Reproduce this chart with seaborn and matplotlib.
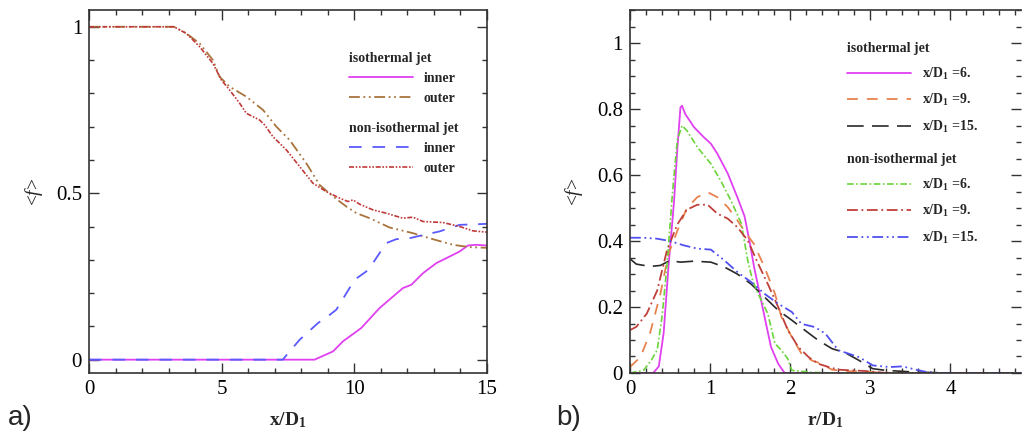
import matplotlib
matplotlib.use("Agg")
import seaborn as sns
from matplotlib import pyplot as plt
from matplotlib.ticker import MultipleLocator

# ---- panel a) : centreline <f> vs x/D1
x_iso_inner = [0, 8.5, 9.2, 9.57, 10.26, 10.95, 11.83, 12.15, 12.59, 13.09, 13.47, 13.97, 14.28, 14.6, 15]
f_iso_inner = [0, 0, 0.025, 0.055, 0.095, 0.155, 0.215, 0.225, 0.26, 0.29, 0.305, 0.325, 0.343, 0.345, 0.343]

x_iso_outer = [0, 3.2, 3.67, 4.17, 4.67, 4.92, 5.3, 5.93, 6.56, 7.06, 7.56, 8.19, 8.69, 9.2, 9.7,
               10.08, 10.58, 11.33, 12.21, 12.96, 13.72, 14.35, 15]
f_iso_outer = [1, 1, 0.98, 0.95, 0.90, 0.85, 0.82, 0.79, 0.75, 0.70, 0.66, 0.59, 0.525, 0.49, 0.46,
               0.44, 0.425, 0.397, 0.38, 0.362, 0.345, 0.338, 0.336]

x_non_inner = [0, 7.3, 7.94, 8.63, 9.0, 9.32, 10.01, 10.45, 10.7, 11.2, 11.58, 12.09, 12.46, 13.2, 13.97, 15]
f_non_inner = [0, 0, 0.06, 0.11, 0.13, 0.15, 0.24, 0.265, 0.29, 0.35, 0.362, 0.365, 0.372, 0.385, 0.405, 0.408]

x_non_outer = [0, 3.2, 3.67, 4.17, 4.67, 4.99, 5.3, 5.68, 5.93, 6.43, 6.62, 6.93, 7.44, 7.94, 8.44, 8.94,
               9.45, 9.76, 9.95, 10.2, 10.7, 11.2, 11.83, 12.21, 12.59, 13.34, 13.97, 14.47, 15]
f_non_outer = [1, 1, 0.98, 0.94, 0.89, 0.84, 0.81, 0.77, 0.74, 0.72, 0.705, 0.67, 0.63, 0.58, 0.53, 0.505,
               0.485, 0.475, 0.48, 0.467, 0.45, 0.44, 0.425, 0.428, 0.415, 0.412, 0.40, 0.387, 0.383]

# ---- panel b) : radial profiles <f> vs r/D1
r_iso6 = [0, 0.29, 0.36, 0.42, 0.48, 0.55, 0.59, 0.63, 0.65, 0.69, 0.8, 0.92, 1.01, 1.09, 1.22, 1.34,
          1.43, 1.49, 1.55, 1.62, 1.68, 1.76, 1.85, 1.93, 4.95]
f_iso6 = [0, 0, 0.02, 0.12, 0.32, 0.52, 0.675, 0.805, 0.81, 0.785, 0.745, 0.715, 0.695, 0.665, 0.605, 0.533,
          0.475, 0.402, 0.32, 0.24, 0.17, 0.079, 0.028, 0, 0]

r_iso9 = [0, 0.13, 0.25, 0.38, 0.48, 0.59, 0.71, 0.84, 0.97, 1.09, 1.22, 1.34, 1.43, 1.55, 1.68, 1.81,
          1.89, 2.02, 2.14, 2.27, 2.39, 2.52, 2.69, 3.1, 3.3, 4.95]
f_iso9 = [0.018, 0.048, 0.12, 0.24, 0.36, 0.43, 0.5, 0.533, 0.548, 0.533, 0.503, 0.463, 0.43, 0.39, 0.32, 0.24,
          0.17, 0.109, 0.059, 0.038, 0.028, 0.01, 0.006, 0.002, 0, 0]

r_iso15 = [0, 0.08, 0.25, 0.38, 0.5, 0.63, 0.8, 1.01, 1.18, 1.34, 1.51, 1.68, 1.85, 2.02, 2.18, 2.35,
           2.52, 2.69, 2.86, 3.03, 3.19, 3.53, 3.95, 4.95]
f_iso15 = [0.346, 0.33, 0.323, 0.326, 0.341, 0.336, 0.339, 0.336, 0.321, 0.3, 0.27, 0.23, 0.19, 0.16, 0.13, 0.099,
           0.074, 0.061, 0.038, 0.013, 0.008, 0.003, 0, 0]

r_non6 = [0, 0.17, 0.27, 0.34, 0.4, 0.46, 0.53, 0.59, 0.65, 0.71, 0.84, 1.01, 1.13, 1.26, 1.39, 1.47,
          1.53, 1.6, 1.72, 1.81, 1.89, 1.97, 2.02, 2.27, 2.5, 4.95]
f_non6 = [0, 0.008, 0.04, 0.07, 0.17, 0.32, 0.545, 0.705, 0.75, 0.735, 0.685, 0.634, 0.584, 0.523, 0.453, 0.341,
          0.281, 0.24, 0.18, 0.089, 0.069, 0.043, 0.008, 0.002, 0, 0]

r_non9 = [0, 0.08, 0.21, 0.34, 0.46, 0.59, 0.71, 0.84, 0.97, 1.09, 1.22, 1.34, 1.47, 1.6, 1.72, 1.85,
          1.97, 2.1, 2.23, 2.35, 2.48, 2.6, 2.94, 3.2, 4.95]
f_non9 = [0.13, 0.14, 0.18, 0.25, 0.37, 0.45, 0.495, 0.51, 0.51, 0.483, 0.468, 0.442, 0.402, 0.331, 0.27, 0.2,
          0.13, 0.079, 0.048, 0.028, 0.018, 0.01, 0.006, 0, 0]

r_non15 = [0, 0.17, 0.34, 0.5, 0.67, 0.84, 1.01, 1.18, 1.34, 1.51, 1.68, 1.85, 2.02, 2.14, 2.31, 2.44,
           2.6, 2.86, 3.03, 3.24, 3.4, 3.57, 3.7, 3.9, 4.95]
f_non15 = [0.41, 0.41, 0.407, 0.4, 0.387, 0.377, 0.374, 0.341, 0.306, 0.276, 0.24, 0.21, 0.185, 0.149, 0.139, 0.119,
           0.069, 0.048, 0.023, 0.018, 0.02, 0.01, 0.003, 0, 0]

sns.set_theme(style="ticks")
plt.rcParams["font.family"] = ["Liberation Serif", "DejaVu Serif"]
plt.rcParams["mathtext.fontset"] = "custom"
plt.rcParams["mathtext.rm"] = "Liberation Serif"
plt.rcParams["mathtext.it"] = "Liberation Serif:italic"
plt.rcParams["mathtext.bf"] = "Liberation Serif:bold"

fig = plt.figure(figsize=(10.22, 4.33), dpi=100)
ax1 = fig.add_axes([0.0871, 0.1386, 0.3894, 0.838])
ax2 = fig.add_axes([0.6164, 0.1386, 0.3826, 0.838])

MAG = "#e040f0"

l1 = sns.lineplot(x=x_iso_inner, y=f_iso_inner, ax=ax1, color=MAG, lw=1.3, sort=False).lines[-1]
l2 = sns.lineplot(x=x_iso_outer, y=f_iso_outer, ax=ax1, color="#a8743c", lw=1.3,
                  linestyle=(0, (6, 2, 1, 2, 1, 2)), sort=False).lines[-1]
l3 = sns.lineplot(x=x_non_inner, y=f_non_inner, ax=ax1, color="#5a5aff", lw=1.3,
                  linestyle=(0, (7, 6)), sort=False).lines[-1]
l4 = sns.lineplot(x=x_non_outer, y=f_non_outer, ax=ax1, color="#c03a3a", lw=1.2,
                  linestyle=(0, (3, 1, 1, 1, 1, 1)), sort=False).lines[-1]

m1 = sns.lineplot(x=r_iso6, y=f_iso6, ax=ax2, color=MAG, lw=1.3, sort=False).lines[-1]
m2 = sns.lineplot(x=r_iso9, y=f_iso9, ax=ax2, color="#e8834f", lw=1.3,
                  linestyle=(0, (6, 5)), sort=False).lines[-1]
m3 = sns.lineplot(x=r_iso15, y=f_iso15, ax=ax2, color="#2a2a2a", lw=1.2,
                  linestyle=(0, (10, 5)), sort=False).lines[-1]
m4 = sns.lineplot(x=r_non6, y=f_non6, ax=ax2, color="#6ad43a", lw=1.2,
                  linestyle=(0, (4, 1.5, 1, 1.5)), sort=False).lines[-1]
m5 = sns.lineplot(x=r_non9, y=f_non9, ax=ax2, color="#c0403a", lw=1.3,
                  linestyle=(0, (6, 2, 1, 2)), sort=False).lines[-1]
m6 = sns.lineplot(x=r_non15, y=f_non15, ax=ax2, color="#5050f0", lw=1.3,
                  linestyle=(0, (6, 2, 1, 2, 1, 2)), sort=False).lines[-1]

ax1.set_xlim(0, 15)
ax1.set_ylim(-0.04, 1.05)
ax1.xaxis.set_major_locator(MultipleLocator(5))
ax1.xaxis.set_minor_locator(MultipleLocator(1))
ax1.set_yticks([0, 0.5, 1])
ax1.set_yticklabels(["0", "0.5", "1"])
ax1.yaxis.set_minor_locator(MultipleLocator(0.1))

ax2.set_xlim(0, 4.88)
ax2.set_ylim(0, 1.1)
ax2.xaxis.set_major_locator(MultipleLocator(1))
ax2.xaxis.set_minor_locator(MultipleLocator(0.2))
ax2.set_yticks([0, 0.2, 0.4, 0.6, 0.8, 1])
ax2.set_yticklabels(["0", "0.2", "0.4", "0.6", "0.8", "1"])
ax2.yaxis.set_minor_locator(MultipleLocator(0.05))

for ax, xl in [(ax1, r"$\mathbf{x/D_1}$"), (ax2, r"$\mathbf{r/D_1}$")]:
    for s in ax.spines.values():
        s.set_visible(True)
        s.set_linewidth(1.2)
        s.set_color("#333333")
    ax.tick_params(which="both", direction="in", top=True, right=True, colors="#333333",
                   labelcolor="black", labelsize=15, width=1.0)
    ax.tick_params(which="major", length=7, pad=5)
    ax.tick_params(which="minor", length=3.5)
    ax.set_xlabel(xl, fontsize=14, labelpad=8)
    ax.set_ylabel(r"<$f$>", fontsize=14)
ax1.yaxis.set_label_coords(-0.11, 0.5)
ax2.yaxis.set_label_coords(-0.115, 0.5)
ax2.spines["right"].set_visible(False)

leg_kw = dict(frameon=False, loc="upper left", alignment="left", borderpad=0,
              handlelength=4.6, handletextpad=0.8, borderaxespad=0,
              title_fontproperties={"weight": "bold", "size": 10},
              prop={"weight": "bold", "size": 10})

lg = ax1.legend([l1, l2], ["inner", "outer"], title="isothermal jet",
                bbox_to_anchor=(0.653, 0.884), labelspacing=0.5, **leg_kw)
ax1.add_artist(lg)
ax1.legend([l3, l4], ["inner", "outer"], title="non-isothermal jet",
           bbox_to_anchor=(0.653, 0.691), labelspacing=0.5, **leg_kw)

lab6 = r"$\mathbf{x/D_1}$ =6."
lab9 = r"$\mathbf{x/D_1}$ =9."
lab15 = r"$\mathbf{x/D_1}$ =15."
lg2 = ax2.legend([m1, m2, m3], [lab6, lab9, lab15], title="isothermal jet",
                 bbox_to_anchor=(0.555, 0.912), labelspacing=0.75, **leg_kw)
ax2.add_artist(lg2)
ax2.legend([m4, m5, m6], [lab6, lab9, lab15], title="non-isothermal jet",
           bbox_to_anchor=(0.555, 0.606), labelspacing=0.75, **leg_kw)

fig.text(0.0196, 0.035, "a)", fontsize=20, family=["Liberation Sans", "DejaVu Sans"], ha="center", va="center")
fig.text(0.556, 0.035, "b)", fontsize=20, family=["Liberation Sans", "DejaVu Sans"], ha="center", va="center")

fig.savefig("out.png", dpi=100)
